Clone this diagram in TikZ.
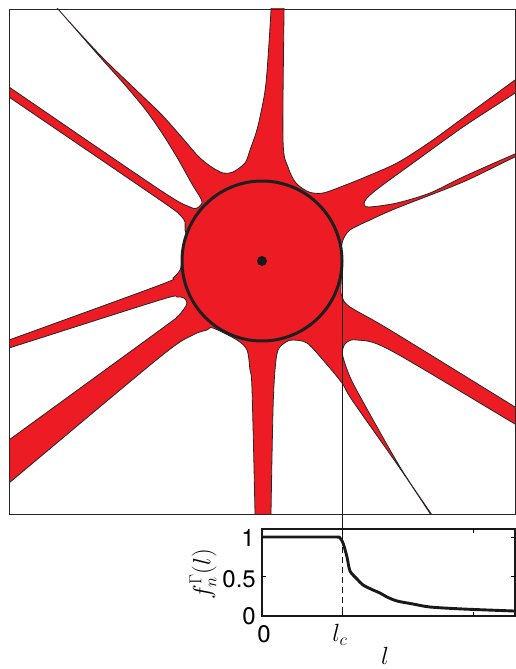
\documentclass[tikz,border=0pt]{standalone}
\usepackage{fontspec}
\setmainfont{TeX Gyre Heros}
\begin{document}
\begin{tikzpicture}[x=1pt,y=-1pt]
\definecolor{nred}{RGB}{237,28,36}
\tikzset{
  branch/.style={fill=nred, draw=black!85, line width=0.8pt, line join=round},
  soma/.style={fill=nred, draw=black!88, line width=3pt},
  frame/.style={draw=black!85, line width=0.8pt},
  axisbox/.style={draw=black!90, line width=1.4pt},
  fcurve/.style={draw=black!90, line width=2.9pt, line join=round},
  guide/.style={draw=black!90, line width=0.9pt},
  lab/.style={font=\fontsize{24}{26}\selectfont, inner sep=0pt}
}
\useasboundingbox (0,0) rectangle (516,669);
\begin{scope}
\clip (9,9) rectangle (515,514);
\path[branch]
 plot[smooth] coordinates {(284,-30) (284,10) (283,140) (288,167) (296,183) (309,192) (323,193) (343,186) (363,178) (397,163) (430,142) (463,118) (515,80) (560,47)}
 -- plot[smooth] coordinates {(560,62) (515,93) (463,127) (413,163) (380,187) (367,198) (364,204) (369,207) (397,203) (430,193) (463,177) (515,154) (560,136)}
 -- plot[smooth] coordinates {(560,138) (515,157) (463,182) (397,208) (370,220) (350,230) (343,240) (341,252) (342,262) (341,288) (342,297) (350,307) (390,330) (515,407) (560,435)}
 -- plot[smooth] coordinates {(560,450) (515,424) (390,350) (357,340) (347,342) (343,348) (343,357) (350,377) (362,400) (400,467) (432,515) (446,536)}
 -- plot[smooth] coordinates {(444,537) (431,515) (399,467) (352,400) (342,383) (323,360) (307,343) (293,340) (286,342) (278,350) (275,370) (273,410) (271,514) (271,560)}
 -- plot[smooth] coordinates {(255,560) (255,514) (252,389) (250,370) (247,350) (237,340) (213,328) (207,330) (193,335) (160,357) (9,483) (-30,515)}
 -- plot[smooth] coordinates {(-30,469) (9,440) (160,330) (177,317) (184,309) (187,303) (184,298) (177,297) (160,300) (9,348) (-30,360)}
 -- plot[smooth] coordinates {(-30,354) (9,340) (160,285) (173,278) (180,270) (182,260) (183,245) (187,237) (185,230) (185,222) (180,215) (160,200) (9,97) (-30,70)}
 -- plot[smooth] coordinates {(-30,60) (9,87) (160,190) (190,207) (197,208) (202,203) (200,197) (192,184) (178,159) (162,133) (145,109) (125,85) (100,57) (58,9) (31,-22)}
 -- plot[smooth] coordinates {(33,-22) (58,9) (100,55) (135,89) (162,115) (185,141) (198,156) (210,166) (223,173) (233,172) (245,163) (250,150) (256,133) (260,117) (266,83) (271,10) (272,-30)}
 -- cycle;
\end{scope}
\coordinate (ctr) at (262,261);
\path[soma] (ctr) circle[radius=80pt];
\fill[black!90] (ctr) circle[radius=5pt];
\path[frame] (9,9) rectangle (515,514);
% lower plot
\coordinate (cR) at (342,261);
\coordinate (lcTop) at (342,537);
\coordinate (lcBot) at (342,616);
\path[guide] (cR) -- (lcTop);
\path[guide, dash pattern=on 6pt off 4pt] (lcTop) -- (lcBot);
\path[axisbox] (262,529) rectangle (515,616);
\foreach \xx in {342,473} {
  \draw[line width=0.8pt] (\xx,616) -- (\xx,612);
  \draw[line width=0.8pt] (\xx,529) -- (\xx,533);
}
\foreach \yy in {537,576.5} {
  \draw[line width=0.8pt] (262,\yy) -- (266,\yy);
  \draw[line width=0.8pt] (515,\yy) -- (511,\yy);
}
\path[fcurve] plot[smooth, tension=0.45] coordinates {(263,537) (300,537) (336,537) (340,538) (343,543) (347,557) (350,571) (357,579) (363,585) (373,590) (380,593) (387,597) (397,601) (413,604) (430,607) (463,609) (514,611)};
\node[lab, anchor=east] (t1) at (255,538) {1};
\node[lab, anchor=east] (t05) at (256,579) {0.5};
\node[lab, anchor=east] (t0) at (256,616) {0};
\node[lab] (x0) at (264,634) {0};
\node[lab] (xlc) at (340,635) {$l_c$};
\node[lab] (xl) at (385,656) {$l$};
\node[lab, rotate=90] (yl) at (203,574) {$f_n^{\Gamma}(l)$};
\end{tikzpicture}
\end{document}
